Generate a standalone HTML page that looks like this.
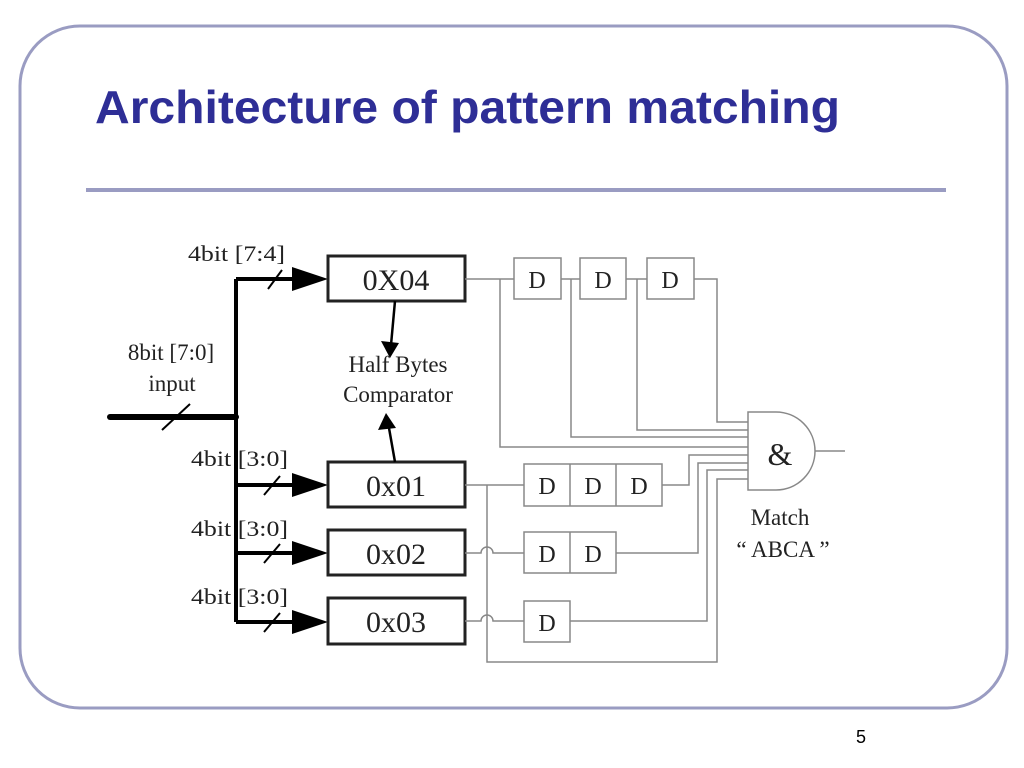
<!DOCTYPE html>
<html><head><meta charset="utf-8"><style>
html,body{margin:0;padding:0;background:#fff;}
svg{display:block;}
</style></head><body>
<svg width="1024" height="768" viewBox="0 0 1024 768" xmlns="http://www.w3.org/2000/svg">
<rect x="20" y="26" width="987" height="682" rx="60" ry="60" fill="none" stroke="#9a9cc2" stroke-width="3"/>
<text x="95" y="123" font-family="Liberation Sans, sans-serif" font-weight="bold" font-size="46" fill="#2e2e96" textLength="745" lengthAdjust="spacingAndGlyphs">Architecture of pattern matching</text>
<line x1="86" y1="190" x2="946" y2="190" stroke="#9a9cc2" stroke-width="4"/>
<text x="856" y="743" font-family="Liberation Sans, sans-serif" font-size="18" fill="#000">5</text>

<g font-family="Liberation Serif, serif" fill="#222">
<g stroke="#000" fill="none">
<line x1="110" y1="417" x2="236" y2="417" stroke-width="6" stroke-linecap="round"/>
<line x1="236" y1="279" x2="236" y2="622" stroke-width="4"/>
<line x1="236" y1="279" x2="300" y2="279" stroke-width="4"/>
<line x1="236" y1="485" x2="300" y2="485" stroke-width="4"/>
<line x1="236" y1="553" x2="300" y2="553" stroke-width="4"/>
<line x1="236" y1="622" x2="300" y2="622" stroke-width="4"/>
<g stroke-width="2">
<line x1="162" y1="430" x2="190" y2="404"/>
<line x1="268" y1="289" x2="282" y2="270"/>
<line x1="264" y1="495" x2="280" y2="476"/>
<line x1="264" y1="563" x2="280" y2="544"/>
<line x1="264" y1="632" x2="280" y2="613"/>
</g>
</g>
<g fill="#000">
<polygon points="292,267 328,279 292,291"/>
<polygon points="292,473 328,485 292,497"/>
<polygon points="292,541 328,553 292,565"/>
<polygon points="292,610 328,622 292,634"/>
</g>
<g fill="#fff" stroke="#222" stroke-width="3">
<rect x="328" y="256" width="137" height="45"/>
<rect x="328" y="462" width="137" height="45"/>
<rect x="328" y="530" width="137" height="45"/>
<rect x="328" y="598" width="137" height="46"/>
</g>
<g font-size="30" text-anchor="middle" fill="#222">
<text x="396" y="290">0X04</text>
<text x="396" y="496">0x01</text>
<text x="396" y="564">0x02</text>
<text x="396" y="632">0x03</text>
</g>
<g stroke="#000" stroke-width="2.5">
<line x1="395" y1="301" x2="391" y2="345"/>
<line x1="395" y1="462" x2="389" y2="428"/>
</g>
<polygon points="381,341 399,343 390,358" fill="#000"/>
<polygon points="378,430 396,428 386,413" fill="#000"/>
<g font-size="23" text-anchor="middle">
<text x="398" y="372">Half Bytes</text>
<text x="398" y="402">Comparator</text>
<text x="171" y="360">8bit [7:0]</text>
<text x="172" y="391">input</text>
</g>
<g font-size="22">
<text x="188" y="261" textLength="97" lengthAdjust="spacingAndGlyphs">4bit [7:4]</text>
<text x="191" y="466" textLength="97" lengthAdjust="spacingAndGlyphs">4bit [3:0]</text>
<text x="191" y="536" textLength="97" lengthAdjust="spacingAndGlyphs">4bit [3:0]</text>
<text x="191" y="604" textLength="97" lengthAdjust="spacingAndGlyphs">4bit [3:0]</text>
</g>
<g stroke="#888" stroke-width="1.5" fill="none">
<line x1="465" y1="279" x2="514" y2="279"/>
<line x1="561" y1="279" x2="580" y2="279"/>
<line x1="626" y1="279" x2="647" y2="279"/>
<polyline points="694,279 717,279 717,422 748,422"/>
<polyline points="637,279 637,430 748,430"/>
<polyline points="571,279 571,437 748,437"/>
<polyline points="500,279 500,447 748,447"/>
<line x1="465" y1="485" x2="524" y2="485"/>
<polyline points="662,485 689,485 689,455 748,455"/>
<path d="M465,553 H481 A6,6 0 0 1 493,553 H524"/>
<polyline points="616,553 698,553 698,463 748,463"/>
<path d="M465,621 H481 A6,6 0 0 1 493,621 H524"/>
<polyline points="570,621 707,621 707,470 748,470"/>
<polyline points="487,485 487,662 717,662 717,479 748,479"/>
<line x1="815" y1="451" x2="845" y2="451"/>
</g>
<g fill="#fff" stroke="#888" stroke-width="1.5">
<rect x="514" y="258" width="47" height="41"/>
<rect x="580" y="258" width="46" height="41"/>
<rect x="647" y="258" width="47" height="41"/>
<rect x="524" y="464" width="138" height="42"/>
<line x1="570" y1="464" x2="570" y2="506"/>
<line x1="616" y1="464" x2="616" y2="506"/>
<rect x="524" y="532" width="92" height="41"/>
<line x1="570" y1="532" x2="570" y2="573"/>
<rect x="524" y="601" width="46" height="41"/>
<path d="M748,412 H776 A39,39 0 0 1 776,490 H748 Z"/>
</g>
<g font-size="24" text-anchor="middle" fill="#222">
<text x="537" y="288">D</text>
<text x="603" y="288">D</text>
<text x="670" y="288">D</text>
<text x="547" y="494">D</text>
<text x="593" y="494">D</text>
<text x="639" y="494">D</text>
<text x="547" y="562">D</text>
<text x="593" y="562">D</text>
<text x="547" y="631">D</text>
<text x="780" y="465" font-size="32">&amp;</text>
<text x="780" y="525" font-size="23">Match</text>
<text x="783" y="557" font-size="23">“ ABCA ”</text>
</g>
</g>
</svg>
</body></html>
